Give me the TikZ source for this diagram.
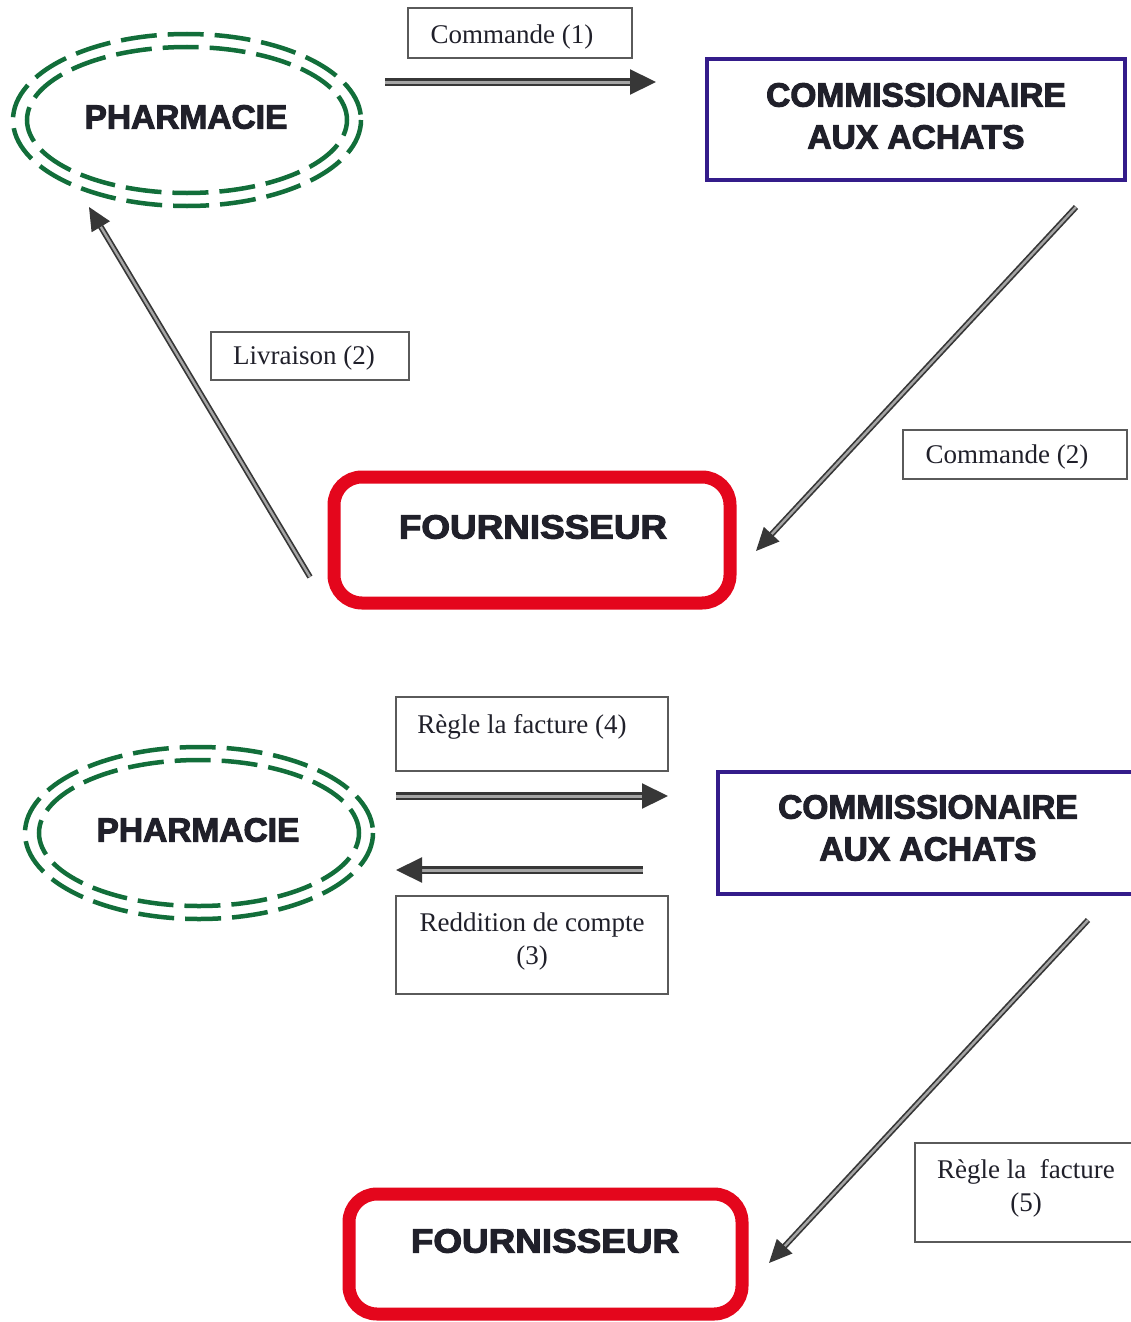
\documentclass[tikz,border=0pt]{standalone}
\usepackage{fontspec}
\setmainfont{Liberation Serif}
\newfontfamily\heavy[FakeBold=3]{Liberation Sans Bold}
\usetikzlibrary{arrows.meta}
\definecolor{pgreen}{RGB}{18,110,58}
\definecolor{cpurple}{RGB}{52,28,138}
\definecolor{fred}{RGB}{228,6,28}
\definecolor{ink}{RGB}{32,32,42}
\definecolor{boxgray}{RGB}{90,90,90}
\definecolor{arrgray}{RGB}{55,55,55}
\definecolor{arrlight}{RGB}{165,165,165}
\tikzset{
  title/.style={font=\heavy\fontsize{33.5}{42}\selectfont, text=ink, align=center},
  lbl/.style={font=\fontsize{27}{33}\selectfont, text=ink, align=center},
  lblbox/.style={draw=boxgray, line width=1.4pt, rectangle, inner sep=0pt},
  dashell/.style={draw=pgreen, line width=4.5pt, dash pattern=on 36pt off 11pt},
  commbox/.style={draw=cpurple, line width=4pt, rectangle, inner sep=0pt},
  fourbox/.style={draw=fred, line width=13pt, rounded corners=28pt, rectangle, inner sep=0pt},
  flow/.style={draw=arrgray, line width=2.2pt, double=arrlight, double distance=3pt, -{Triangle[length=26pt,width=25pt]}},
  flowthin/.style={draw=arrgray, line width=1.7pt, double=arrlight, double distance=2.4pt, -{Triangle[length=23pt,width=21pt]}}
}
\begin{document}
\begin{tikzpicture}[x=1pt,y=-1pt]
\useasboundingbox (0,0) rectangle (1131,1322);
\fill[white] (0,0) rectangle (1131,1322);

% ---------- top part ----------
\draw[dashell] (187,120) ellipse [x radius=174, y radius=86];
\draw[dashell, dash phase=20pt] (187,120) ellipse [x radius=160, y radius=73];
\node[title] (pharm1) at (186,117) {PHARMACIE};

\node[commbox, minimum width=418, minimum height=121] (comm1) at (916,119.5) {};
\node[title] (comm1t) at (916,116) {COMMISSIONAIRE\\AUX ACHATS};

\node[fourbox, minimum width=396, minimum height=126] (four1) at (532,540) {};
\node[title] (four1t) at (533,527) {\scalebox{1.1}[1]{FOURNISSEUR}};

\node[lblbox, minimum width=224, minimum height=50] (b1) at (520,33) {};
\node[lbl] (t1) at (512,37) {Commande (1)};
\node[lblbox, minimum width=198, minimum height=48] (b2) at (310,356) {};
\node[lbl] (t2) at (304,358) {Livraison (2)};
\node[lblbox, minimum width=224, minimum height=49] (b3) at (1015,454.5) {};
\node[lbl] (t3) at (1007,457) {Commande (2)};

\coordinate (a1s) at (385,82);
\coordinate (a1e) at (656,82);
\coordinate (a2s) at (1076,207);
\coordinate (a2e) at (756,551);
\coordinate (a3s) at (310,577);
\coordinate (a3e) at (89,207);
\draw[flow] (a1s) -- (a1e);
\draw[flowthin] (a2s) -- (a2e);
\draw[flowthin] (a3s) -- (a3e);

% ---------- bottom part ----------
\draw[dashell] (199,833) ellipse [x radius=174, y radius=86];
\draw[dashell, dash phase=20pt] (199,833) ellipse [x radius=160, y radius=73];
\node[title] (pharm2) at (198,830) {PHARMACIE};

\node[commbox, minimum width=424, minimum height=122] (comm2) at (930,833) {};
\node[title] (comm2t) at (928,828) {COMMISSIONAIRE\\AUX ACHATS};

\node[fourbox, minimum width=393, minimum height=120] (four2) at (545.5,1254) {};
\node[title] (four2t) at (545,1241) {\scalebox{1.1}[1]{FOURNISSEUR}};

\node[lblbox, minimum width=272, minimum height=74] (b4) at (532,734) {};
\node[lbl] (t4) at (522,727) {Règle la facture (4)};
\node[lblbox, minimum width=272, minimum height=98] (b5) at (532,945) {};
\node[lbl] (t5) at (532,941) {Reddition de compte\\(3)};
\node[lblbox, minimum width=224, minimum height=99] (b6) at (1027,1192.5) {};
\node[lbl] (t6) at (1026,1188) {Règle la\ \ facture\\(5)};

\coordinate (a4s) at (396,796);
\coordinate (a4e) at (668,796);
\coordinate (a5s) at (643,870);
\coordinate (a5e) at (396,870);
\coordinate (a6s) at (1088,920);
\coordinate (a6e) at (769,1263);
\draw[flow] (a4s) -- (a4e);
\draw[flow] (a5s) -- (a5e);
\draw[flowthin] (a6s) -- (a6e);
\end{tikzpicture}
\end{document}
